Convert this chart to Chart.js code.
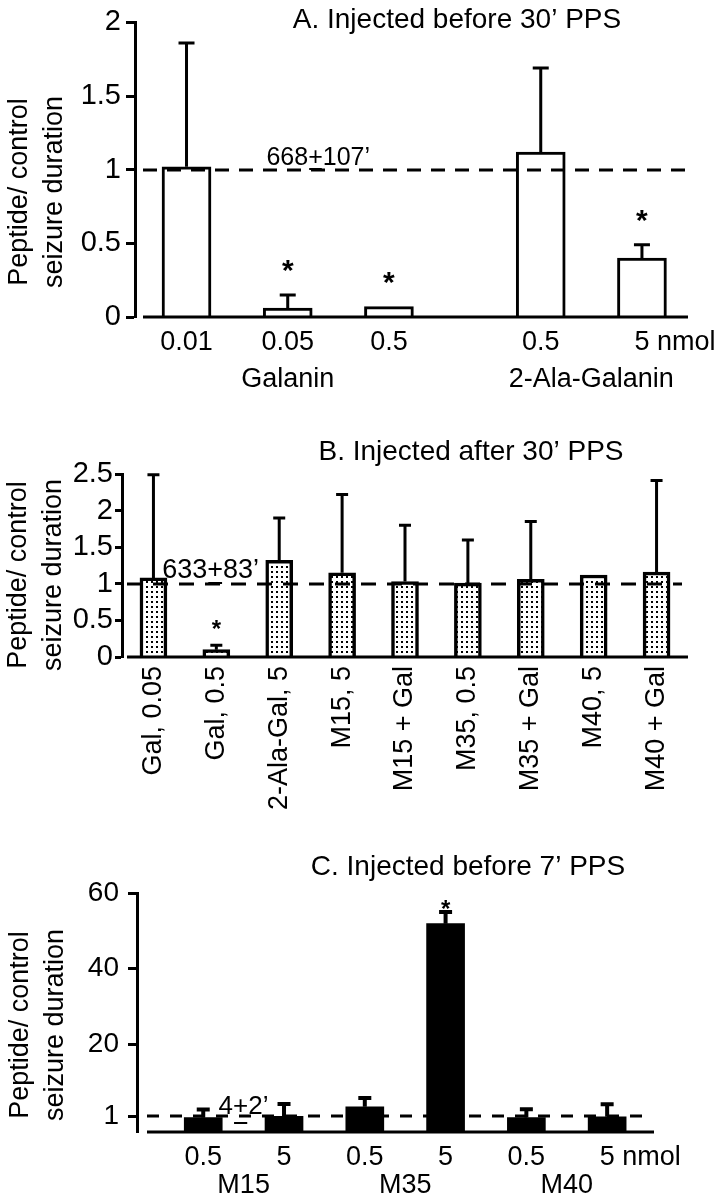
<!DOCTYPE html>
<html>
<head>
<meta charset="utf-8">
<title>Galanin and seizure duration</title>
<script src="https://cdn.jsdelivr.net/npm/chart.js@4.4.1/dist/chart.umd.min.js"></script>
<style>
  body { margin: 0; background: #fff; }
  #page { position: relative; width: 727px; height: 1199px; overflow: hidden; }
  #page canvas { position: absolute; left: 0; }
</style>
</head>
<body>
<div id="page">
  <canvas id="chartA" width="727" height="400" style="top:0px"></canvas>
  <canvas id="chartB" width="727" height="420" style="top:400px"></canvas>
  <canvas id="chartC" width="727" height="379" style="top:820px"></canvas>
</div>
<script>
/* ---- data ---- */

// A. Injected before 30' PPS
var titleA = "A. Injected before 30\u2019 PPS";
var labelsA = ["0.01", "0.05", "0.5", "0.5", "5"];
var groupA = [0, 0, 0, 1, 1];
var groupNamesA = ["Galanin", "2-Ala-Galanin"];
var valuesA = [1.02, 0.06, 0.07, 1.12, 0.40];
var errorsA = [0.84, 0.09, 0, 0.57, 0.09];
var starsA = [false, true, true, false, true];
var controlA = "668+107\u2019";

// B. Injected after 30' PPS
var titleB = "B. Injected after 30\u2019 PPS";
var labelsB = ["Gal, 0.05", "Gal, 0.5", "2-Ala-Gal, 5", "M15, 5", "M15 + Gal",
               "M35, 0.5", "M35 + Gal", "M40, 5", "M40 + Gal"];
var valuesB = [1.08, 0.10, 1.32, 1.15, 1.03, 1.01, 1.06, 1.12, 1.16];
var errorsB = [1.41, 0.06, 0.58, 1.07, 0.77, 0.59, 0.79, 0, 1.25];
var starsB = [false, true, false, false, false, false, false, false, false];
var controlB = "633+83\u2019";

// C. Injected before 7' PPS
var titleC = "C. Injected before 7\u2019 PPS";
var labelsC = ["0.5", "5", "0.5", "5", "0.5", "5"];
var groupC = [0, 0, 1, 1, 2, 2];
var groupNamesC = ["M15", "M35", "M40"];
var valuesC = [0.92, 1.0, 3.5, 51.9, 0.92, 0.96];
var errorsC = [1.85, 3.2, 2.3, 3.1, 1.9, 3.2];
var starsC = [false, false, false, true, false, false];
var ticksC = [1, 20, 40, 60];
var controlC = "4+2\u2019";

var yTitle = ["Peptide/ control", "seizure duration"];
var unitText = "nmol";

/* ---- look ---- */
var FONT = "'Liberation Sans', Arial, Helvetica, sans-serif";
Chart.defaults.font.family = FONT;
Chart.defaults.color = "#000";

// the bottom of panel C's axis gives the 0-1 band extra room, as in the figure
var lowBandC = 0.066;

class BrokenLinear extends Chart.LinearScale {
    getPixelForValue(value) {
        if (value === null || value === undefined || isNaN(value)) return NaN;
        var f;
        if (value <= 1) {
            f = value * lowBandC;
        } else {
            f = lowBandC + (value - 1) / (this.max - 1) * (1 - lowBandC);
        }
        return this.getPixelForDecimal(f);
    }
    getValueForPixel(pixel) {
        var f = this.getDecimalForPixel(pixel);
        if (f <= lowBandC) return f / lowBandC;
        return 1 + (f - lowBandC) / (1 - lowBandC) * (this.max - 1);
    }
}
BrokenLinear.id = "brokenLinear";
BrokenLinear.defaults = {};
Chart.register(BrokenLinear);

function dotPattern(ctx) {
    var tile = document.createElement("canvas");
    tile.width = 5;
    tile.height = 5;
    var t = tile.getContext("2d");
    t.fillStyle = "#fff";
    t.fillRect(0, 0, 5, 5);
    t.fillStyle = "#000";
    t.fillRect(1, 1, 2, 2);
    return ctx.createPattern(tile, "repeat");
}

// x position of each bar: index plus a half slot between groups
function groupedX(groups, gap) {
    return groups.map(function (g, i) { return i + g * gap; });
}

function drawUnderlinedPlus(ctx, text, x, y, drop) {
    var i = text.indexOf("+");
    ctx.textAlign = "left";
    ctx.textBaseline = "alphabetic";
    ctx.fillText(text, x, y);
    var before = ctx.measureText(text.slice(0, i)).width;
    var w = ctx.measureText("+").width;
    ctx.fillRect(x + before + 1, y + drop, w - 2, 2);
}

function panelDecor(cfg) {
    return {
        id: "panelDecor",
        afterDatasetsDraw: function (chart) {
            var ctx = chart.ctx;
            var area = chart.chartArea;
            var xs = chart.scales.x;
            var ys = chart.scales.y;
            var meta = chart.getDatasetMeta(0);
            ctx.save();
            ctx.strokeStyle = "#000";
            ctx.fillStyle = "#000";

            // control level
            var y1 = Math.round(ys.getPixelForValue(1));
            ctx.lineWidth = 3;
            ctx.setLineDash(cfg.dash);
            ctx.beginPath();
            ctx.moveTo(area.left + cfg.gap, y1);
            ctx.lineTo(area.right - cfg.dashEnd, y1);
            ctx.stroke();
            ctx.setLineDash([]);

            // error bars (upper only) and stars
            ctx.lineWidth = cfg.errWidth;
            meta.data.forEach(function (bar, i) {
                var top = bar.y;
                if (cfg.errors[i] > 0) {
                    top = ys.getPixelForValue(cfg.values[i] + cfg.errors[i]);
                    ctx.beginPath();
                    ctx.moveTo(bar.x, bar.y);
                    ctx.lineTo(bar.x, top);
                    ctx.moveTo(bar.x - cfg.cap / 2, top);
                    ctx.lineTo(bar.x + cfg.cap / 2, top);
                    ctx.stroke();
                }
                if (cfg.stars[i]) {
                    ctx.font = "bold " + cfg.starSize + "px " + FONT;
                    ctx.textAlign = "center";
                    ctx.textBaseline = "alphabetic";
                    ctx.fillText("*", bar.x, top - cfg.starGap + 0.58 * cfg.starSize);
                }
            });

            // control duration note
            ctx.font = cfg.noteSize + "px " + FONT;
            drawUnderlinedPlus(ctx, cfg.note, xs.getPixelForValue(cfg.noteX), y1 - cfg.noteRise, cfg.noteDrop);
            ctx.restore();
        },
        afterDraw: function (chart) {
            var ctx = chart.ctx;
            var area = chart.chartArea;
            var xs = chart.scales.x;
            ctx.save();
            ctx.fillStyle = "#000";
            ctx.strokeStyle = "#000";

            // x axis line, set a little off the y axis
            ctx.lineWidth = 3;
            ctx.beginPath();
            ctx.moveTo(area.left + cfg.gap, area.bottom);
            ctx.lineTo(area.right, area.bottom);
            ctx.stroke();

            // panel title
            ctx.font = "28px " + FONT;
            ctx.textAlign = "center";
            ctx.textBaseline = "alphabetic";
            ctx.fillText(cfg.title, cfg.titleX, cfg.titleY);

            // y axis title, two rotated lines
            ctx.font = "27px " + FONT;
            ctx.textBaseline = "middle";
            yTitle.forEach(function (t, i) {
                ctx.save();
                ctx.translate(cfg.yTitleX[i], cfg.yTitleY);
                ctx.rotate(-Math.PI / 2);
                ctx.fillText(t, 0, 0);
                ctx.restore();
            });

            // dose unit right after the last dose label, on the same line
            if (cfg.unit) {
                var items = xs.getLabelItems();
                var last = items[items.length - 1];
                ctx.font = last.font.string;
                ctx.textAlign = "left";
                ctx.textBaseline = last.options.textBaseline;
                var w = ctx.measureText(String(last.label)).width;
                var y = last.options.translation[1] + last.textOffset;
                ctx.fillText(" " + cfg.unit, last.options.translation[0] + w / 2, y);
            }

            // group names under the dose labels
            if (cfg.groupNames) {
                ctx.font = cfg.groupSize + "px " + FONT;
                ctx.textAlign = "center";
                ctx.textBaseline = "middle";
                cfg.groupNames.forEach(function (name, g) {
                    var pos = [];
                    cfg.groups.forEach(function (gg, i) { if (gg === g) pos.push(cfg.xPos[i]); });
                    var mid = pos.reduce(function (a, b) { return a + b; }, 0) / pos.length;
                    ctx.fillText(name, xs.getPixelForValue(mid), area.bottom + cfg.groupDrop);
                });
            }
            ctx.restore();
        }
    };
}

function yAxis(min, max, step, width, tickLen, pad, size) {
    return {
        min: min,
        max: max,
        ticks: {
            stepSize: step, autoSkip: false, font: { size: size }, padding: pad, color: "#000",
            callback: function (v) { return String(Number(v)); }
        },
        grid: { drawOnChartArea: false, drawTicks: true, tickLength: tickLen, tickWidth: 3, tickColor: "#000" },
        border: { display: true, width: 3, color: "#000" },
        afterFit: function (s) { s.width = width; }
    };
}

/* ---- panel A ---- */
var xA = groupedX(groupA, 0.5);
new Chart(document.getElementById("chartA"), {
    type: "bar",
    data: {
        datasets: [{
            data: xA.map(function (x, i) { return { x: x, y: valuesA[i] }; }),
            backgroundColor: "#fff",
            borderColor: "#000",
            borderWidth: 3,
            barThickness: 49
        }]
    },
    options: {
        responsive: false,
        animation: false,
        devicePixelRatio: 1,
        layout: { padding: { top: 17, right: 39, left: 0, bottom: 0 } },
        plugins: { legend: { display: false }, tooltip: { enabled: false } },
        scales: {
            x: {
                type: "linear",
                offset: false,
                min: -0.509,
                max: 4.955,
                grid: { display: false, drawTicks: false, offset: false },
                border: { display: false },
                ticks: {
                    autoSkip: false, maxRotation: 0, font: { size: 27 }, padding: 9,
                    callback: function (v, i) { return labelsA[i]; }
                },
                afterBuildTicks: function (s) { s.ticks = xA.map(function (v) { return { value: v }; }); },
                afterFit: function (s) { s.height = 83; }
            },
            y: yAxis(0, 2, 0.5, 135, 9, 5, 29)
        }
    },
    plugins: [panelDecor({
        values: valuesA, errors: errorsA, stars: starsA,
        cap: 16, errWidth: 3, starSize: 30, starGap: 32,
        dash: [14, 10], gap: 8, dashEnd: 2,
        note: controlA, noteX: 0.79, noteSize: 25, noteRise: 5, noteDrop: 3,
        title: titleA, titleX: 457, titleY: 28,
        yTitleX: [20, 55], yTitleY: 192,
        groups: groupA, groupNames: groupNamesA, xPos: xA, groupDrop: 63, groupSize: 27,
        unit: unitText
    })]
});

/* ---- panel B ---- */
var ctxB = document.getElementById("chartB").getContext("2d");
new Chart(ctxB, {
    type: "bar",
    data: {
        labels: labelsB,
        datasets: [{
            data: valuesB,
            backgroundColor: dotPattern(ctxB),
            borderColor: "#000",
            borderWidth: 3.5,
            barThickness: 27
        }]
    },
    options: {
        responsive: false,
        animation: false,
        devicePixelRatio: 1,
        layout: { padding: { top: 74, right: 39, left: 0, bottom: 0 } },
        plugins: { legend: { display: false }, tooltip: { enabled: false } },
        scales: {
            x: {
                type: "category",
                grid: { display: false, drawTicks: false },
                border: { display: false },
                ticks: { autoSkip: false, minRotation: 90, maxRotation: 90, font: { size: 27 }, padding: 9 },
                afterFit: function (s) { s.height = 163; }
            },
            y: yAxis(0, 2.5, 0.5, 122, 7, 2, 29)
        }
    },
    plugins: [panelDecor({
        values: valuesB, errors: errorsB, stars: starsB,
        cap: 12, errWidth: 3, starSize: 24, starGap: 22,
        dash: [15, 11], gap: 5, dashEnd: 6,
        note: controlB, noteX: 0.14, noteSize: 27, noteRise: 6, noteDrop: 4,
        title: titleB, titleX: 471, titleY: 60,
        yTitleX: [19, 54], yTitleY: 175
    })]
});

/* ---- panel C ---- */
var xC = groupedX(groupC, 0);
new Chart(document.getElementById("chartC"), {
    type: "bar",
    data: {
        datasets: [{
            data: xC.map(function (x, i) { return { x: x, y: valuesC[i] }; }),
            backgroundColor: "#000",
            borderWidth: 0,
            barThickness: 38
        }]
    },
    options: {
        responsive: false,
        animation: false,
        devicePixelRatio: 1,
        layout: { padding: { top: 73, right: 73, left: 0, bottom: 0 } },
        plugins: { legend: { display: false }, tooltip: { enabled: false } },
        scales: {
            x: {
                type: "linear",
                offset: false,
                min: -0.82,
                max: 5.58,
                grid: { display: false, drawTicks: false, offset: false },
                border: { display: false },
                ticks: {
                    autoSkip: false, maxRotation: 0, font: { size: 27 }, padding: 9,
                    callback: function (v, i) { return labelsC[i]; }
                },
                afterBuildTicks: function (s) { s.ticks = xC.map(function (v) { return { value: v }; }); },
                afterFit: function (s) { s.height = 67; }
            },
            y: Object.assign(yAxis(0, 60, 20, 137, 9, 9, 28), {
                type: "brokenLinear",
                afterBuildTicks: function (s) { s.ticks = ticksC.map(function (v) { return { value: v }; }); }
            })
        }
    },
    plugins: [panelDecor({
        values: valuesC, errors: errorsC, stars: starsC,
        cap: 13, errWidth: 4, starSize: 24, starGap: 9,
        dash: [12, 11], gap: 10, dashEnd: 1,
        note: controlC, noteX: 0.19, noteSize: 26, noteRise: 2, noteDrop: 8,
        title: titleC, titleX: 468, titleY: 55,
        yTitleX: [21, 56], yTitleY: 205,
        groups: groupC, groupNames: groupNamesC, xPos: xC, groupDrop: 54, groupSize: 27,
        unit: unitText
    })]
});
</script>
</body>
</html>
